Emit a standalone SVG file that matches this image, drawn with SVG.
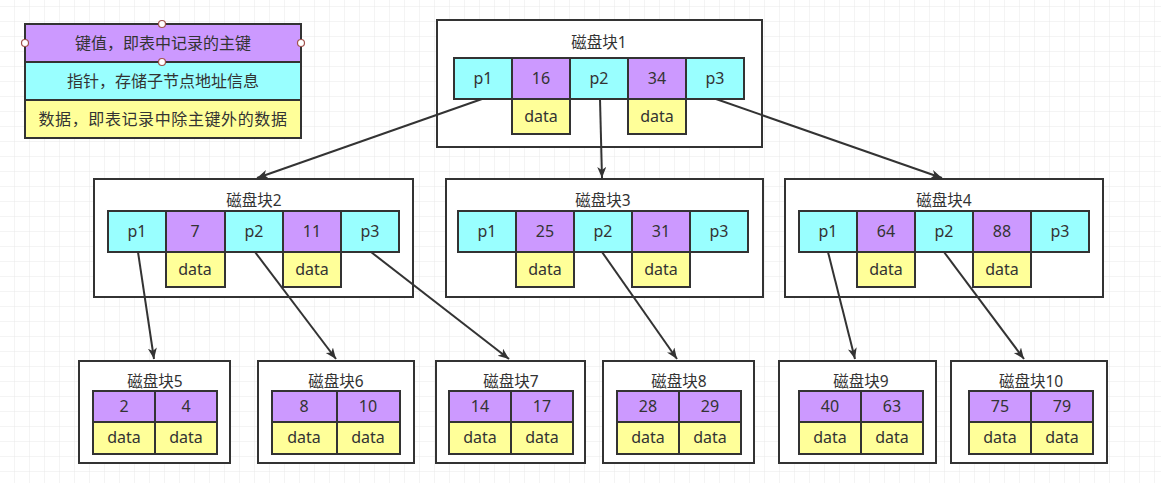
<svg xmlns="http://www.w3.org/2000/svg" width="1161" height="483" viewBox="0 0 1161 483">
<defs>
<pattern id="grid" x="0" y="7" width="15" height="15" patternUnits="userSpaceOnUse">
<path d="M15 0V15M0 15H15" fill="none" stroke="#e8e8e8" stroke-width="1"/>
</pattern>
<marker id="arr" markerUnits="userSpaceOnUse" markerWidth="12" markerHeight="10" refX="11" refY="4.5" orient="auto">
<path d="M0,0 L11,4.5 L0,9 L3,4.5 z" fill="#333"/>
</marker>
<style>
.box{fill:#fff;stroke:#333;stroke-width:2}
.k{fill:#cc99ff;stroke:#333;stroke-width:2}
.p{fill:#99ffff;stroke:#333;stroke-width:2}
.d{fill:#ffff99;stroke:#333;stroke-width:2}
text{font-family:"Noto Sans","Noto Sans CJK SC",sans-serif;font-size:16px;fill:#333;text-anchor:middle}
.ti{font-size:15.5px}
.lg{font-size:16px}
.lg3{font-size:16px;letter-spacing:0.6px}
.c line{stroke:#333;stroke-width:2;marker-end:url(#arr)}
.h{fill:#fff;stroke:#a0524d;stroke-width:1.2}
</style>
</defs>
<rect width="1161" height="483" fill="#fff"/>
<rect width="1161" height="483" fill="url(#grid)"/>

<g id="legend">
<rect class="k" x="25" y="24" width="276" height="38"/>
<rect class="p" x="25" y="62" width="276" height="38"/>
<rect class="d" x="25" y="100" width="276" height="38"/>
<text class="lg" x="163" y="49">键值，即表中记录的主键</text>
<text class="lg" x="163" y="87">指针，存储子节点地址信息</text>
<text class="lg3" x="163" y="125">数据，即表记录中除主键外的数据</text>
<circle class="h" cx="162" cy="24" r="3.5"/>
<circle class="h" cx="25" cy="43" r="3.5"/>
<circle class="h" cx="301" cy="43" r="3.5"/>
<circle class="h" cx="162" cy="62" r="3.5"/>
</g>

<g id="block1">
<rect class="box" x="437" y="20" width="325" height="127"/>
<text class="ti" x="599" y="48">磁盘块1</text>
<rect class="p" x="454" y="58" width="58" height="41"/>
<rect class="k" x="512" y="58" width="58" height="41"/>
<rect class="p" x="570" y="58" width="58" height="41"/>
<rect class="k" x="628" y="58" width="58" height="41"/>
<rect class="p" x="686" y="58" width="58" height="41"/>
<rect class="d" x="512" y="99" width="58" height="35"/>
<rect class="d" x="628" y="99" width="58" height="35"/>
<text x="483" y="84">p1</text><text x="541" y="84">16</text><text x="599" y="84">p2</text><text x="657" y="84">34</text><text x="715" y="84">p3</text>
<text x="541" y="122">data</text><text x="657" y="122">data</text>
</g>

<g id="block2">
<rect class="box" x="94" y="179" width="319" height="118"/>
<text class="ti" x="254" y="206">磁盘块2</text>
<rect class="p" x="108" y="211" width="58" height="41"/>
<rect class="k" x="166" y="211" width="59" height="41"/>
<rect class="p" x="225" y="211" width="58" height="41"/>
<rect class="k" x="283" y="211" width="58" height="41"/>
<rect class="p" x="341" y="211" width="58" height="41"/>
<rect class="d" x="166" y="252" width="59" height="35"/>
<rect class="d" x="283" y="252" width="58" height="35"/>
<text x="137" y="237">p1</text><text x="195" y="237">7</text><text x="254" y="237">p2</text><text x="312" y="237">11</text><text x="370" y="237">p3</text>
<text x="195" y="275">data</text><text x="312" y="275">data</text>
</g>

<g id="block3">
<rect class="box" x="446" y="179" width="317" height="118"/>
<text class="ti" x="603" y="206">磁盘块3</text>
<rect class="p" x="458" y="211" width="58" height="41"/>
<rect class="k" x="516" y="211" width="58" height="41"/>
<rect class="p" x="574" y="211" width="58" height="41"/>
<rect class="k" x="632" y="211" width="58" height="41"/>
<rect class="p" x="690" y="211" width="58" height="41"/>
<rect class="d" x="516" y="252" width="58" height="35"/>
<rect class="d" x="632" y="252" width="58" height="35"/>
<text x="487" y="237">p1</text><text x="545" y="237">25</text><text x="603" y="237">p2</text><text x="661" y="237">31</text><text x="719" y="237">p3</text>
<text x="545" y="275">data</text><text x="661" y="275">data</text>
</g>

<g id="block4">
<rect class="box" x="785" y="179" width="318" height="118"/>
<text class="ti" x="944" y="206">磁盘块4</text>
<rect class="p" x="799" y="211" width="58" height="41"/>
<rect class="k" x="857" y="211" width="58" height="41"/>
<rect class="p" x="915" y="211" width="58" height="41"/>
<rect class="k" x="973" y="211" width="58" height="41"/>
<rect class="p" x="1031" y="211" width="58" height="41"/>
<rect class="d" x="857" y="252" width="58" height="35"/>
<rect class="d" x="973" y="252" width="58" height="35"/>
<text x="828" y="237">p1</text><text x="886" y="237">64</text><text x="944" y="237">p2</text><text x="1002" y="237">88</text><text x="1060" y="237">p3</text>
<text x="886" y="275">data</text><text x="1002" y="275">data</text>
</g>

<g id="block5">
<rect class="box" x="79" y="361" width="151" height="102"/>
<text class="ti" x="155" y="387">磁盘块5</text>
<rect class="k" x="93" y="391" width="62" height="31"/><rect class="k" x="155" y="391" width="62" height="31"/>
<rect class="d" x="93" y="422" width="62" height="32"/><rect class="d" x="155" y="422" width="62" height="32"/>
<text x="124" y="412">2</text><text x="186" y="412">4</text>
<text x="124" y="443">data</text><text x="186" y="443">data</text>
</g>

<g id="block6">
<rect class="box" x="258" y="361" width="156" height="102"/>
<text class="ti" x="336" y="387">磁盘块6</text>
<rect class="k" x="272" y="391" width="65" height="31"/><rect class="k" x="337" y="391" width="63" height="31"/>
<rect class="d" x="272" y="422" width="65" height="32"/><rect class="d" x="337" y="422" width="63" height="32"/>
<text x="304" y="412">8</text><text x="368" y="412">10</text>
<text x="304" y="443">data</text><text x="368" y="443">data</text>
</g>

<g id="block7">
<rect class="box" x="436" y="361" width="149" height="102"/>
<text class="ti" x="511" y="387">磁盘块7</text>
<rect class="k" x="449" y="391" width="62" height="31"/><rect class="k" x="511" y="391" width="62" height="31"/>
<rect class="d" x="449" y="422" width="62" height="32"/><rect class="d" x="511" y="422" width="62" height="32"/>
<text x="480" y="412">14</text><text x="542" y="412">17</text>
<text x="480" y="443">data</text><text x="542" y="443">data</text>
</g>

<g id="block8">
<rect class="box" x="603" y="361" width="151" height="102"/>
<text class="ti" x="679" y="387">磁盘块8</text>
<rect class="k" x="617" y="391" width="62" height="31"/><rect class="k" x="679" y="391" width="62" height="31"/>
<rect class="d" x="617" y="422" width="62" height="32"/><rect class="d" x="679" y="422" width="62" height="32"/>
<text x="648" y="412">28</text><text x="710" y="412">29</text>
<text x="648" y="443">data</text><text x="710" y="443">data</text>
</g>

<g id="block9">
<rect class="box" x="779" y="361" width="157" height="102"/>
<text class="ti" x="861" y="387">磁盘块9</text>
<rect class="k" x="799" y="391" width="62" height="31"/><rect class="k" x="861" y="391" width="62" height="31"/>
<rect class="d" x="799" y="422" width="62" height="32"/><rect class="d" x="861" y="422" width="62" height="32"/>
<text x="830" y="412">40</text><text x="892" y="412">63</text>
<text x="830" y="443">data</text><text x="892" y="443">data</text>
</g>

<g id="block10">
<rect class="box" x="951" y="361" width="156" height="102"/>
<text class="ti" x="1031" y="387">磁盘块10</text>
<rect class="k" x="969" y="391" width="62" height="31"/><rect class="k" x="1031" y="391" width="62" height="31"/>
<rect class="d" x="969" y="422" width="62" height="32"/><rect class="d" x="1031" y="422" width="62" height="32"/>
<text x="1000" y="412">75</text><text x="1062" y="412">79</text>
<text x="1000" y="443">data</text><text x="1062" y="443">data</text>
</g>

<g id="connectors" class="c">
<line x1="482" y1="99" x2="257" y2="178"/>
<line x1="600" y1="99" x2="602" y2="178"/>
<line x1="716" y1="99" x2="942" y2="178"/>
<line x1="138" y1="252" x2="154" y2="359"/>
<line x1="255" y1="252" x2="336" y2="359"/>
<line x1="371" y1="252" x2="509" y2="359"/>
<line x1="602" y1="252" x2="677" y2="359"/>
<line x1="828" y1="252" x2="855" y2="359"/>
<line x1="944" y1="252" x2="1024" y2="359"/>
</g>
</svg>
